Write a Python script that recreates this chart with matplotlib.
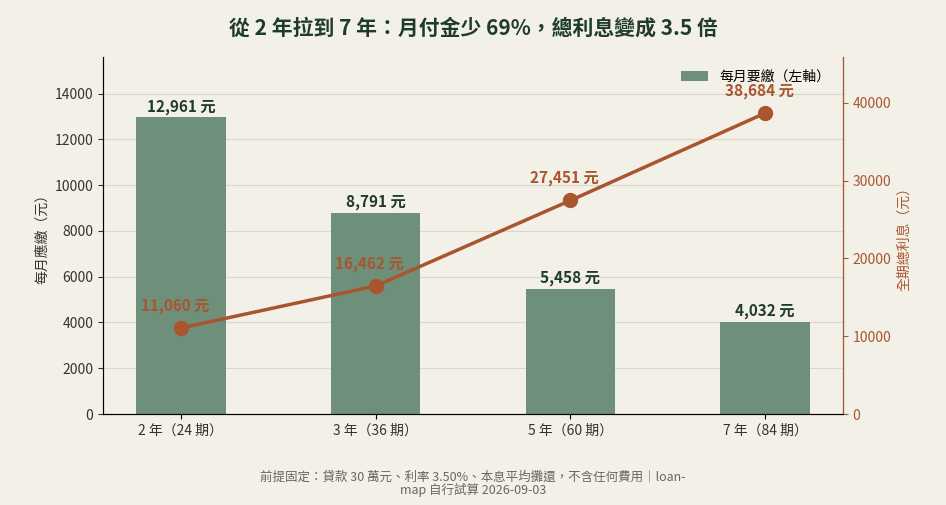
import matplotlib.pyplot as plt
import numpy as np

plt.rcParams['font.family'] = ['Noto Sans CJK TC', 'DejaVu Sans']

periods = ['2 年（24 期）', '3 年（36 期）', '5 年（60 期）', '7 年（84 期）']
monthly = [12961, 8791, 5458, 4032]
total_interest = [11060, 16462, 27451, 38684]

bg = '#f3f1e7'
bar_color = '#6e8f7a'
line_color = '#a9552f'
dark = '#1f3b2e'

fig = plt.figure(figsize=(9.46, 5.05), dpi=100, facecolor=bg)
ax = fig.add_axes([103/946, 1-414/505, 740/946, 357/505])
ax.set_facecolor(bg)
x = np.arange(len(periods))
bars = ax.bar(x, monthly, width=0.46, color=bar_color, label='每月要繳（左軸）', zorder=2)
for xi, v in zip(x, monthly):
    ax.text(xi, v + 120, f'{v:,} 元', ha='center', va='bottom', fontsize=11,
            fontweight='bold', color=dark)
ax.set_ylim(0, 15600)
ax.set_xlim(-0.4, 3.4)
ax.set_yticks(range(0, 14001, 2000))
ax.set_xticks(x)
ax.set_xticklabels(periods, fontsize=10, color='#333333')
ax.set_ylabel('每月應繳（元）', fontsize=10, color='#333333')
ax.tick_params(axis='y', labelsize=10, colors='#333333')
ax.grid(axis='y', color='#d8d8cc', linewidth=0.8, zorder=0)
ax.set_axisbelow(True)
for s in ['top']:
    ax.spines[s].set_visible(False)

ax2 = ax.twinx()
ax2.plot(x, total_interest, color=line_color, linewidth=2.5, marker='o',
         markersize=10, zorder=3)
for xi, v in zip(x, total_interest):
    ax2.text(xi - 0.03, v + 1800, f'{v:,} 元', ha='center', va='bottom', fontsize=11,
             fontweight='bold', color=line_color)
ax2.set_ylim(0, 45900)
ax2.set_yticks(range(0, 40001, 10000))
ax2.set_ylabel('全期總利息（元）', fontsize=10, color=line_color)
ax2.tick_params(axis='y', labelsize=10, colors=line_color)
ax2.spines['right'].set_color(line_color)
ax2.spines['top'].set_visible(False)

ax.legend(loc='upper right', frameon=False, fontsize=10)

fig.suptitle('從 2 年拉到 7 年：月付金少 69%，總利息變成 3.5 倍', y=0.965,
             fontsize=15, fontweight='bold', color=dark)
fig.text(0.5, 0.015, '前提固定：貸款 30 萬元、利率 3.50%、本息平均攤還，不含任何費用｜loan-\nmap 自行試算 2026-09-03',
         ha='center', va='bottom', fontsize=9, color='#666666', linespacing=1.0)

fig.savefig('out.png', dpi=100, facecolor=bg)
